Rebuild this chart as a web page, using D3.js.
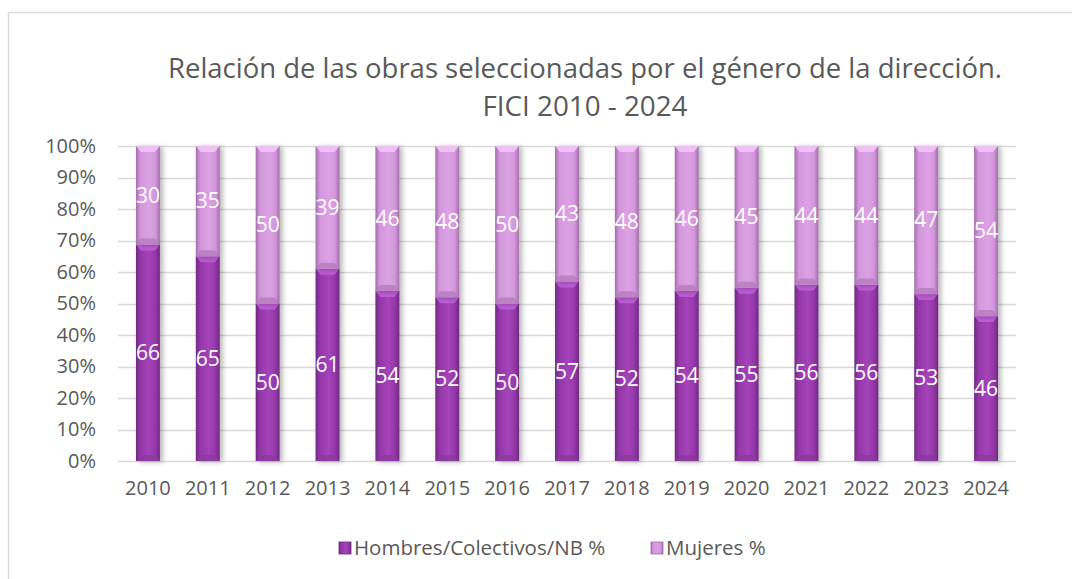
<!DOCTYPE html>
<html>
<head>
<meta charset="utf-8">
<script src="https://cdn.jsdelivr.net/npm/d3@7"></script>
<style>
  body { margin: 0; background: #fff; }
  text { font-family: "Open Sans", "Noto Sans", sans-serif; }
</style>
</head>
<body>
<script>
// data
var years = ["2010","2011","2012","2013","2014","2015","2016","2017","2018","2019","2020","2021","2022","2023","2024"];
var hombres = [66,65,50,61,54,52,50,57,52,54,55,56,56,53,46];
var mujeres = [30,35,50,39,46,48,50,43,48,46,45,44,44,47,54];
var seriesNames = ["Hombres/Colectivos/NB %", "Mujeres %"];
var titleLines = ["Relación de las obras seleccionadas por el género de la dirección.", "FICI 2010 - 2024"];

var width = 1072, height = 579;

var svg = d3.select("body").append("svg")
    .attr("width", width)
    .attr("height", height);

var defs = svg.append("defs");

//horizontal gradients to fake the bevelled bars
function barGrad(id, edge, mid, light) {
    var g = defs.append("linearGradient").attr("id", id)
        .attr("x1", "0%").attr("x2", "100%").attr("y1", "0%").attr("y2", "0%");
    g.append("stop").attr("offset", "0%").attr("stop-color", edge);
    g.append("stop").attr("offset", "18%").attr("stop-color", mid);
    g.append("stop").attr("offset", "55%").attr("stop-color", light);
    g.append("stop").attr("offset", "82%").attr("stop-color", mid);
    g.append("stop").attr("offset", "100%").attr("stop-color", edge);
}
barGrad("gH", "#6e2a80", "#9536aa", "#a444b9");
barGrad("gM", "#a06fa8", "#d495dc", "#dca2e4");

var shadow = defs.append("filter").attr("id", "sh")
    .attr("x", "-40%").attr("y", "-5%").attr("width", "200%").attr("height", "110%");
shadow.append("feDropShadow").attr("dx", 3).attr("dy", 1).attr("stdDeviation", 2.5)
    .attr("flood-color", "#000").attr("flood-opacity", 0.28);

//chart border (runs off canvas at right / bottom)
svg.append("rect")
    .attr("x", 8.5).attr("y", 12.5)
    .attr("width", 1100).attr("height", 600)
    .attr("fill", "none").attr("stroke", "#d9d9d9").attr("stroke-width", 1.5);

//title
var titleY = [78, 116], titleLen = [834, 205];
svg.selectAll(".title").data(titleLines).enter().append("text")
    .attr("class", "title")
    .attr("x", 585)
    .attr("y", function(d, i){ return titleY[i]; })
    .attr("text-anchor", "middle")
    .attr("textLength", function(d, i){ return titleLen[i]; })
    .attr("lengthAdjust", "spacingAndGlyphs")
    .attr("fill", "#595959")
    .attr("font-size", 28)
    .text(function(d){ return d; });

var pLeft = 118, pRight = 1016, pTop = 146, pBottom = 461;

var x = d3.scaleBand()
    .domain(years)
    .range([pLeft, pRight])
    .paddingInner(0.6)
    .paddingOuter(0.3);

var y = d3.scaleLinear()
    .domain([0, 1])
    .range([pBottom, pTop]);

var tickVals = d3.range(0, 11).map(function(d){ return d / 10; });

//gridlines
svg.append("g").selectAll("line").data(tickVals).enter().append("line")
    .attr("x1", pLeft).attr("x2", pRight)
    .attr("y1", function(d){ return Math.round(y(d)) + 0.5; })
    .attr("y2", function(d){ return Math.round(y(d)) + 0.5; })
    .attr("stroke", "#d9d9d9").attr("stroke-width", 1.5);

//y axis
var yAxis = svg.append("g")
    .attr("transform", "translate(" + (pLeft - 22) + ",0)")
    .call(d3.axisLeft(y).tickValues(tickVals).tickFormat(d3.format(".0%")).tickSize(0).tickPadding(0));
yAxis.select(".domain").remove();
yAxis.selectAll("text")
    .attr("fill", "#595959")
    .attr("font-size", 20)
    .style("font-family", "'Open Sans', sans-serif");

//x axis
var xAxis = svg.append("g")
    .attr("transform", "translate(0," + pBottom + ")")
    .call(d3.axisBottom(x).tickSize(0).tickPadding(20));
xAxis.select(".domain").remove();
xAxis.selectAll("text")
    .attr("fill", "#595959")
    .attr("font-size", 20)
    .style("font-family", "'Open Sans', sans-serif");

//stack as 100%
var rows = years.map(function(yr, i){
    var t = hombres[i] + mujeres[i];
    return { year: yr, h: hombres[i], m: mujeres[i], hp: hombres[i] / t, mp: mujeres[i] / t };
});

var segs = [];
rows.forEach(function(r){
    segs.push({ year: r.year, v: r.h, y0: 0, y1: r.hp, s: 0 });
    segs.push({ year: r.year, v: r.m, y0: r.hp, y1: 1, s: 1 });
});

var bw = x.bandwidth();
var bars = svg.append("g");

var seg = bars.selectAll(".seg").data(segs).enter().append("g")
    .attr("class", "seg");

seg.append("rect")
    .attr("x", function(d){ return x(d.year); })
    .attr("y", function(d){ return y(d.y1); })
    .attr("width", bw)
    .attr("height", function(d){ return y(d.y0) - y(d.y1); })
    .attr("fill", function(d){ return d.s ? "url(#gM)" : "url(#gH)"; })
    .attr("filter", "url(#sh)");

//top bevel
seg.append("path")
    .attr("d", function(d){
        var x0 = x(d.year), yt = y(d.y1);
        return "M" + x0 + "," + yt + "L" + (x0 + bw) + "," + yt +
            "L" + (x0 + bw - 5) + "," + (yt + 6) + "L" + (x0 + 5) + "," + (yt + 6) + "Z";
    })
    .attr("fill", function(d){ return d.s ? "#f2c4f6" : "#c060d8"; })
    .attr("opacity", 0.9);

//bottom bevel
seg.append("path")
    .attr("d", function(d){
        var x0 = x(d.year), yb = y(d.y0);
        return "M" + x0 + "," + yb + "L" + (x0 + bw) + "," + yb +
            "L" + (x0 + bw - 5) + "," + (yb - 6) + "L" + (x0 + 5) + "," + (yb - 6) + "Z";
    })
    .attr("fill", function(d){ return d.s ? "#b47cbd" : "#8a3b9e"; })
    .attr("opacity", 0.8);

//data labels
seg.append("text")
    .attr("x", function(d){ return x(d.year) + bw / 2; })
    .attr("y", function(d){ return (y(d.y0) + y(d.y1)) / 2; })
    .attr("dy", "0.35em")
    .attr("text-anchor", "middle")
    .attr("fill", "#fff")
    .attr("font-size", 21)
    .text(function(d){ return d.v; });

//legend
var legX = [339, 651];
var legColors = ["url(#gH)", "url(#gM)"];
var leg = svg.selectAll(".leg").data(seriesNames).enter().append("g")
    .attr("class", "leg")
    .attr("transform", function(d, i){ return "translate(" + legX[i] + ",548)"; });
leg.append("rect")
    .attr("x", 0).attr("y", -6)
    .attr("width", 12).attr("height", 12)
    .attr("fill", function(d, i){ return legColors[i]; })
    .attr("stroke", function(d, i){ return i ? "#a06fa8" : "#6e2a80"; })
    .attr("stroke-width", 0.8);
leg.append("text")
    .attr("x", 15).attr("y", 0).attr("dy", "0.35em")
    .attr("fill", "#595959")
    .attr("font-size", 20.5)
    .text(function(d){ return d; });
</script>
</body>
</html>
